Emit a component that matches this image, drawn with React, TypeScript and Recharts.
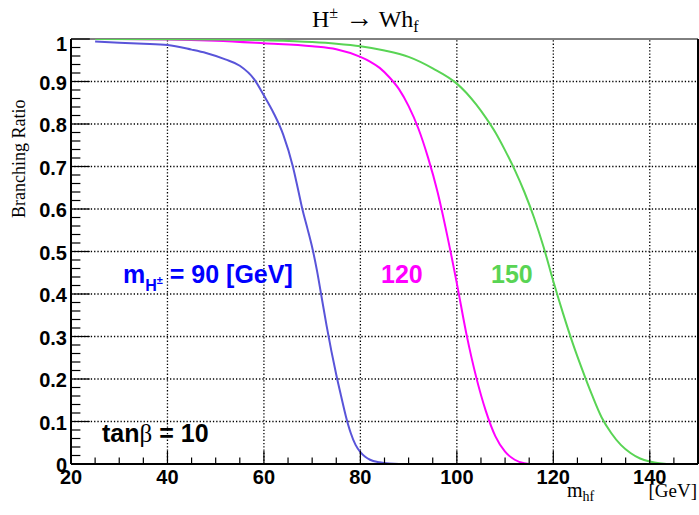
import React from 'react';
import { LineChart, Line, XAxis, YAxis, ReferenceLine } from 'recharts';

// ---- data ----
const blueX = [25, 30, 35, 40, 45, 48, 52, 55, 58, 60, 62, 64, 66, 67, 68, 69, 70, 71, 72, 73, 74, 75, 76, 77, 78, 79, 80, 81, 82, 84, 86, 88, 90];
const blueY = [0.994, 0.991, 0.989, 0.986, 0.975, 0.967, 0.952, 0.937, 0.905, 0.867, 0.826, 0.775, 0.7, 0.65, 0.598, 0.555, 0.51, 0.455, 0.39, 0.325, 0.265, 0.21, 0.16, 0.112, 0.073, 0.045, 0.028, 0.017, 0.01, 0.004, 0.001, 0, 0];

const magentaX = [25, 40, 50, 60, 70, 75, 80, 82, 84, 86, 88, 90, 92, 94, 96, 98, 100, 102, 104, 106, 108, 110, 112, 114, 116, 120];
const magentaY = [1.0, 0.999, 0.996, 0.99, 0.983, 0.976, 0.958, 0.947, 0.932, 0.91, 0.882, 0.842, 0.79, 0.722, 0.64, 0.538, 0.425, 0.305, 0.205, 0.125, 0.065, 0.029, 0.01, 0.002, 0, 0];

const greenX = [25, 50, 60, 70, 75, 80, 85, 90, 95, 100, 102, 104, 106, 108, 110, 112, 114, 116, 118, 120, 122, 124, 126, 128, 130, 132, 134, 136, 138, 140, 142, 145, 150];
const greenY = [1.0, 0.999, 0.997, 0.993, 0.989, 0.983, 0.973, 0.958, 0.931, 0.895, 0.873, 0.846, 0.815, 0.78, 0.738, 0.692, 0.64, 0.58, 0.51, 0.43, 0.355, 0.285, 0.222, 0.163, 0.11, 0.073, 0.045, 0.026, 0.013, 0.006, 0.002, 0, 0];

const xMajorTicks = [20, 40, 60, 80, 100, 120, 140];
const yMajorTicks = [0, 0.1, 0.2, 0.3, 0.4, 0.5, 0.6, 0.7, 0.8, 0.9, 1];
const yTickLabels = ['0', '0.1', '0.2', '0.3', '0.4', '0.5', '0.6', '0.7', '0.8', '0.9', '1'];
const xGridValues = [40, 60, 80, 100, 120, 140];
const yGridValues = [0.1, 0.2, 0.3, 0.4, 0.5, 0.6, 0.7, 0.8, 0.9];

const X_DOMAIN: [number, number] = [20, 150];
const Y_DOMAIN: [number, number] = [0, 1];

const toSeries = (xs: number[], ys: number[]) => xs.map((x, i) => ({ x, y: ys[i] }));
const blueData = toSeries(blueX, blueY);
const magentaData = toSeries(magentaX, magentaY);
const greenData = toSeries(greenX, greenY);

const xAllTicks: number[] = [];
for (let v = X_DOMAIN[0]; v <= X_DOMAIN[1]; v += 5) xAllTicks.push(v);
const yAllTicks: number[] = [];
for (let k = 0; k <= 50; k++) yAllTicks.push(Number((k * 0.02).toFixed(2)));

const SANS = "'Liberation Sans', Arial, Helvetica, sans-serif";
const SERIF = "'Liberation Serif', 'Times New Roman', Times, serif";

const BLUE_LINE = '#5954d9';
const MAGENTA = '#ff00ff';
const GREEN = '#59d454';

const XTick = (props: any) => {
  const { x, y, payload } = props;
  const v = payload.value;
  const major = xMajorTicks.includes(v);
  return (
    <g>
      <line x1={x} x2={x} y1={y} y2={y - (major ? 13 : 6.5)} stroke="#000" strokeWidth={1.2} />
      {major && (
        <text x={x} y={y + 20} textAnchor="middle" fontFamily={SANS} fontWeight="bold" fontSize={20} fill="#000">
          {v}
        </text>
      )}
    </g>
  );
};

const YTick = (props: any) => {
  const { x, y, payload } = props;
  const v = payload.value;
  const idx = yMajorTicks.findIndex((m) => Math.abs(m - v) < 1e-6);
  const major = idx >= 0;
  return (
    <g>
      <line x1={x} x2={x + (major ? 18.8 : 9.4)} y1={y} y2={y} stroke="#000" strokeWidth={1.2} />
      {major && (
        <text x={x - 4} y={y + (v === 1 ? 12 : 8)} textAnchor="end" fontFamily={SANS} fontWeight="bold" fontSize={20} fill="#000">
          {yTickLabels[idx]}
        </text>
      )}
    </g>
  );
};

export default function App() {
  return (
    <div style={{ position: 'absolute', left: 0, top: 0, width: 699, height: 515, background: '#fff' }}>
      <LineChart width={699} height={515} margin={{ top: 39, right: 1, bottom: 0, left: 0 }}>
        {xGridValues.map((v) => (
          <ReferenceLine key={'gx' + v} x={v} stroke="#000" strokeWidth={1.3} strokeDasharray="1.3 2" />
        ))}
        {yGridValues.map((v) => (
          <ReferenceLine key={'gy' + v} y={v} stroke="#000" strokeWidth={1.3} strokeDasharray="1.3 2" />
        ))}
        <XAxis
          type="number"
          dataKey="x"
          domain={X_DOMAIN}
          ticks={xAllTicks}
          interval={0}
          height={51}
          tickSize={0}
          tickMargin={0}
          tickLine={false}
          tick={<XTick />}
          axisLine={{ stroke: '#000', strokeWidth: 2 }}
          allowDataOverflow
        />
        <YAxis
          type="number"
          dataKey="y"
          domain={Y_DOMAIN}
          ticks={yAllTicks}
          interval={0}
          width={71}
          tickSize={0}
          tickMargin={0}
          tickLine={false}
          tick={<YTick />}
          axisLine={{ stroke: '#000', strokeWidth: 2 }}
          allowDataOverflow
        />
        <ReferenceLine y={1} stroke="#000" strokeWidth={1} />
        <ReferenceLine x={150} stroke="#000" strokeWidth={2} />
        <Line data={blueData} dataKey="y" type="monotone" stroke={BLUE_LINE} strokeWidth={2} dot={false} isAnimationActive={false} />
        <Line data={magentaData} dataKey="y" type="monotone" stroke={MAGENTA} strokeWidth={2} dot={false} isAnimationActive={false} />
        <Line data={greenData} dataKey="y" type="monotone" stroke={GREEN} strokeWidth={2} dot={false} isAnimationActive={false} />
      </LineChart>
      <svg width={699} height={515} style={{ position: 'absolute', left: 0, top: 0, pointerEvents: 'none' }}>
        <text x={312} y={27} fontFamily={SERIF} fontSize={24} fill="#000">
          H<tspan fontSize={16} dy={-9}>±</tspan>
          <tspan dy={9} fontSize={28}> →</tspan>
          <tspan> Wh</tspan>
          <tspan fontSize={16} dy={5}>f</tspan>
        </text>
        <text x={25} y={218} transform="rotate(-90 25 218)" fontFamily={SERIF} fontSize={18} fill="#000">
          Branching Ratio
        </text>
        <text x={567} y={497} fontFamily={SERIF} fontSize={20} fill="#000">
          m<tspan fontSize={14} dy={4}>hf</tspan>
        </text>
        <text x={697} y={497} textAnchor="end" fontFamily={SERIF} fontSize={19} fill="#000">
          [GeV]
        </text>
        <text x={123} y={283} fontFamily={SANS} fontWeight="bold" fontSize={25} fill="#0000ff">
          m<tspan fontSize={16} dy={8}>H</tspan>
          <tspan fontSize={11} dy={-7}>±</tspan>
          <tspan dy={-1}> = 90 [GeV]</tspan>
        </text>
        <text x={381} y={283} fontFamily={SANS} fontWeight="bold" fontSize={25} fill={MAGENTA}>
          120
        </text>
        <text x={491} y={283} fontFamily={SANS} fontWeight="bold" fontSize={25} fill={GREEN}>
          150
        </text>
        <text x={102} y={442} fontFamily={SANS} fontWeight="bold" fontSize={25} fill="#000">
          tan<tspan fontFamily={SERIF} fontWeight="normal">β</tspan> = 10
        </text>
      </svg>
    </div>
  );
}
